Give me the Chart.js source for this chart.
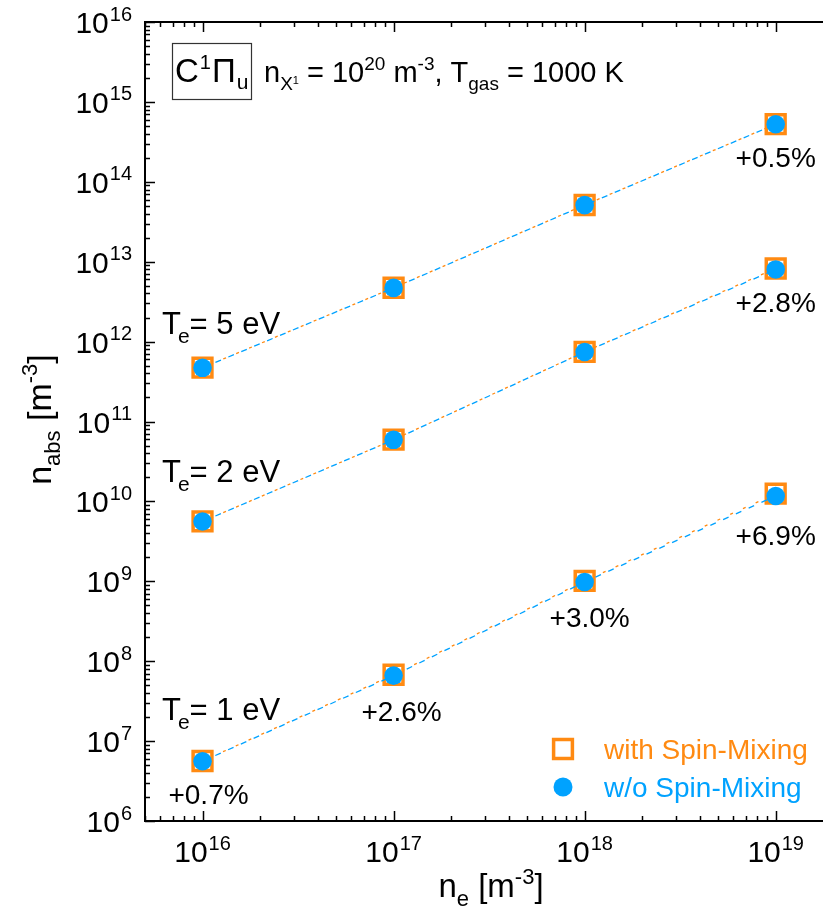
<!DOCTYPE html>
<html>
<head>
<meta charset="utf-8">
<script src="https://cdn.jsdelivr.net/npm/chart.js"></script>
<style>
  html, body { margin: 0; padding: 0; background: #fff; overflow: hidden; }
  #wrap { width: 823px; height: 913px; overflow: hidden; }
  canvas { display: block; }
</style>
</head>
<body>
<div id="wrap"><canvas id="chart" width="850" height="913"></canvas></div>
<script>
const FONT = '"Liberation Sans", Arial, sans-serif'
const ORANGE = '#ff8a12'
const BLUE = '#00a2ff'

// electron density (x) and absorber density (y)
const neValues = [1e16, 1e17, 1e18, 1e19]
const woSpinT5 = [4.7e11, 4.7e12, 5.1e13, 5.25e14]
const woSpinT2 = [5.6e9, 5.9e10, 7.4e11, 8.0e12]
const woSpinT1 = [5.6e6, 6.6e7, 9.8e8, 1.17e10]
const withSpinT5 = [4.72e11, 4.72e12, 5.12e13, 5.28e14]
const withSpinT2 = [5.62e9, 5.92e10, 7.45e11, 8.22e12]
const withSpinT1 = [5.64e6, 6.77e7, 1.01e9, 1.25e10]

const xTickExps = [16, 17, 18, 19]
const yTickExps = [6, 7, 8, 9, 10, 11, 12, 13, 14, 15, 16]

// percent labels: text, which w/o series, which point
const pctTexts = ['+0.5%', '+2.8%', '+6.9%', '+3.0%', '+2.6%', '+0.7%']
const pctSeries = [0, 1, 2, 2, 2, 2]
const pctPoint = [3, 3, 3, 2, 1, 0]
const pctShift = [[0, 33], [0, 33], [0, 39], [5, 35], [8, 35], [6, 33]]

const teTexts = ['5', '2', '1']
const teBaselines = [334, 482, 720]

const toPts = (ys) => neValues.map((x, i) => ({ x: x, y: ys[i] }))

const withDs = (ys) => ({
  data: toPts(ys),
  showLine: true,
  borderColor: ORANGE,
  borderWidth: 1.3,
  borderDash: [3, 11],
  borderDashOffset: 5.5,
  pointStyle: 'rect',
  pointRadius: 13.3,
  pointHoverRadius: 13.3,
  pointBorderWidth: 3.5,
  pointBorderColor: ORANGE,
  pointBackgroundColor: '#ffffff',
  order: 1
})
const woDs = (ys) => ({
  data: toPts(ys),
  showLine: true,
  borderColor: BLUE,
  borderWidth: 1.3,
  borderDash: [6, 8],
  pointStyle: 'circle',
  pointRadius: 9.3,
  pointHoverRadius: 9.3,
  pointBorderWidth: 0,
  pointBackgroundColor: BLUE,
  order: 0
})

// draw a run of text pieces: [text, size, dy, dx]
function rich(ctx, parts, x, y, align, color) {
  let widths = parts.map(p => { ctx.font = p[1] + 'px ' + FONT; return ctx.measureText(p[0]).width + (p[3] || 0) })
  const total = widths.reduce((a, b) => a + b, 0)
  let cx = align === 'right' ? x - total : align === 'center' ? x - total / 2 : x
  ctx.fillStyle = color || '#000'
  ctx.textBaseline = 'alphabetic'
  ctx.textAlign = 'left'
  parts.forEach((p, i) => {
    ctx.font = p[1] + 'px ' + FONT
    ctx.fillText(p[0], cx + (p[3] || 0), y + (p[2] || 0))
    cx += widths[i]
  })
}

const decor = {
  id: 'decor',
  afterDraw(chart) {
    const ctx = chart.ctx
    const ca = chart.chartArea
    const xs = chart.scales.x
    const ys = chart.scales.y
    ctx.save()
    ctx.strokeStyle = '#000'

    // frame: left, top, bottom (right side is off the picture)
    ctx.lineWidth = 2
    ctx.beginPath()
    ctx.moveTo(ca.right + 5, ca.top); ctx.lineTo(ca.left, ca.top)
    ctx.lineTo(ca.left, ca.bottom); ctx.lineTo(ca.right + 5, ca.bottom)
    ctx.stroke()

    // inward ticks
    ctx.lineWidth = 1.5
    ctx.beginPath()
    for (let k = 15; k <= 19; k++) {
      for (let m = 1; m <= 9; m++) {
        const v = m * Math.pow(10, k)
        if (v < xs.min || v > xs.max) continue
        const px = Math.round(xs.getPixelForValue(v)) + 0.5
        const len = m === 1 ? 10 : 5
        ctx.moveTo(px, ca.bottom); ctx.lineTo(px, ca.bottom - len)
        ctx.moveTo(px, ca.top); ctx.lineTo(px, ca.top + len)
      }
    }
    for (let k = 6; k <= 16; k++) {
      for (let m = 1; m <= 9; m++) {
        const v = m * Math.pow(10, k)
        if (v < ys.min || v > ys.max) continue
        const py = Math.round(ys.getPixelForValue(v)) + 0.5
        const len = m === 1 ? 10 : 5
        ctx.moveTo(ca.left, py); ctx.lineTo(ca.left + len, py)
      }
    }
    ctx.stroke()

    // tick labels
    xTickExps.forEach(e => {
      const px = xs.getPixelForValue(Math.pow(10, e))
      rich(ctx, [['10', 30], [String(e), 20, -12.5, 1]], px, ca.bottom + 41, 'center')
    })
    yTickExps.forEach(e => {
      const py = ys.getPixelForValue(Math.pow(10, e))
      rich(ctx, [['10', 30], [String(e), 20, -12.5, 1]], ca.left - 13, py + 11, 'right')
    })

    // axis titles
    rich(ctx, [['n', 33], ['e', 22, 9], [' [m', 33], ['-3', 22, -13], [']', 33]], 491, ca.bottom + 76, 'center')
    ctx.save()
    ctx.translate(51, (ca.top + ca.bottom) / 2 - 2)
    ctx.rotate(-Math.PI / 2)
    rich(ctx, [['n', 34], ['abs', 22, 9], [' [m', 34], ['-3', 22, -14], [']', 34]], 0, 0, 'center')
    ctx.restore()

    // header
    ctx.lineWidth = 1.2
    ctx.strokeStyle = '#333'
    ctx.strokeRect(172.5, 43.5, 79, 56)
    rich(ctx, [['C', 33], ['1', 20, -13, 1], ['\u03A0', 33, 0, 1], ['u', 21, 7, 1]], 175, 82, 'left')
    rich(ctx, [['n', 29], ['X', 19, 8], ['1', 11, 2], [' = 10', 29], ['20', 19, -12], [' m', 29], ['-3', 19, -12],
      [', T', 29], ['gas', 19, 8], [' = 1000 K', 29]], 264, 82, 'left')

    // temperature labels
    teTexts.forEach((t, i) => {
      rich(ctx, [['T', 31], ['e', 21, 9, -3], ['= ' + t + ' eV', 31]], 162, teBaselines[i], 'left')
    })

    // spin-mixing increase labels
    const woSets = [woSpinT5, woSpinT2, woSpinT1]
    pctTexts.forEach((t, i) => {
      const px = xs.getPixelForValue(neValues[pctPoint[i]])
      const py = ys.getPixelForValue(woSets[pctSeries[i]][pctPoint[i]])
      rich(ctx, [[t, 28]], px + pctShift[i][0], py + pctShift[i][1] + 10, 'center')
    })

    // legend
    const lx = 563
    ctx.lineWidth = 3.5
    ctx.strokeStyle = ORANGE
    ctx.fillStyle = '#fff'
    ctx.beginPath(); ctx.rect(lx - 9.4, 749 - 9.4, 18.8, 18.8); ctx.fill(); ctx.stroke()
    ctx.fillStyle = BLUE
    ctx.beginPath(); ctx.arc(lx, 787, 9.5, 0, Math.PI * 2); ctx.fill()
    rich(ctx, [['with Spin-Mixing', 28]], 604, 759, 'left', ORANGE)
    rich(ctx, [['w/o Spin-Mixing', 28]], 604, 797, 'left', BLUE)

    ctx.restore()
  }
}

new Chart(document.getElementById('chart'), {
  type: 'scatter',
  data: {
    datasets: [
      withDs(withSpinT5), withDs(withSpinT2), withDs(withSpinT1),
      woDs(woSpinT5), woDs(woSpinT2), woDs(woSpinT1)
    ]
  },
  options: {
    responsive: false,
    animation: false,
    devicePixelRatio: 1,
    layout: { padding: { left: 145, top: 22, right: 12, bottom: 92 } },
    scales: {
      x: { type: 'logarithmic', min: 5e15, max: 2e19, display: false },
      y: { type: 'logarithmic', min: 1e6, max: 1e16, display: false }
    },
    plugins: { legend: { display: false }, tooltip: { enabled: false } }
  },
  plugins: [decor]
})
</script>
</body>
</html>
